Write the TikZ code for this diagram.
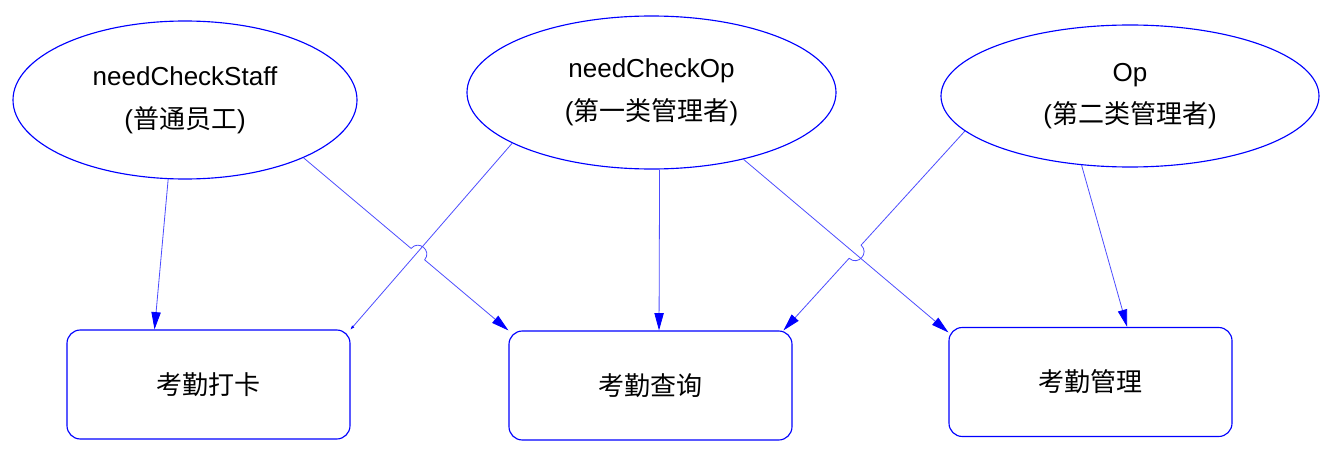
\documentclass[tikz,border=0pt]{standalone}
\usepackage{fontspec}
\setmainfont{Liberation Sans}
\newfontfamily\cjk{Noto Sans CJK SC}
\newcommand{\zh}[1]{{\cjk #1}}
\usetikzlibrary{shapes,arrows.meta,calc}

\begin{document}
\begin{tikzpicture}[x=0.75pt, y=-0.75pt]
		\tikzstyle{Role} 	= [ellipse, draw=blue, line width=0.85pt, inner sep=0pt, align=center, font=\fontsize{19.5}{32}\selectfont]
		\tikzstyle{Task}	= [rectangle, rounded corners=10pt, draw=blue, line width=0.85pt, minimum width=212.25pt, minimum height=81.75pt, font=\fontsize{19.5}{24}\selectfont]
		\tikzstyle{Link}	= [blue!70, line width=0.6pt, -{Triangle[length=13pt, width=7pt, color=blue]}]
		\tikzstyle{Hop}		= [bend left=90, looseness=1.7]

		\useasboundingbox (0,0) rectangle (1335,453);

		\node (staff) at (185,100) [Role, minimum width=258pt, minimum height=118.5pt] {needCheckStaff\\(\zh{普通员工})};
		\node (checkop) at (651.5,92.5) [Role, minimum width=276.75pt, minimum height=114.75pt] {needCheckOp\\(\zh{第一类管理者})};
		\node (op) at (1130,96) [Role, minimum width=283.5pt, minimum height=106.5pt] {Op\\(\zh{第二类管理者})};

		\node (clock) at (208.5,384.5) [Task] {\zh{考勤打卡}};
		\node (query) at (650.5,385.5) [Task] {\zh{考勤查询}};
		\node (manage) at (1090.5,382) [Task] {\zh{考勤管理}};

		\draw [Link] (staff.258) -- ($(clock.north west)!0.31!(clock.north east)$);
		\draw [Link] (staff.-26) -- ($(staff.-26)!0.525!(query.north west)$) to [Hop] ($(staff.-26)!0.591!(query.north west)$) -- (query.north west);
		\draw [Link, -{Triangle[length=3pt, width=2pt, color=blue]}] (checkop.200) -- (clock.north east);
		\draw [Link] (checkop.-84.4) -- ($(query.north west)!0.53!(query.north east)$);
		\draw [Link] (checkop.-36.3) -- ($(manage.north west)!0.05!(manage.south west)$);
		\draw [Link] (op.192.6) -- ($(op.192.6)!0.572!($(query.north west)!0.968!(query.north east)$)$) to [Hop] ($(op.192.6)!0.638!($(query.north west)!0.968!(query.north east)$)$) -- ($(query.north west)!0.968!(query.north east)$);
		\draw [Link] (op.235.2) -- ($(manage.north west)!0.629!(manage.north east)$);
\end{tikzpicture}
\end{document}
